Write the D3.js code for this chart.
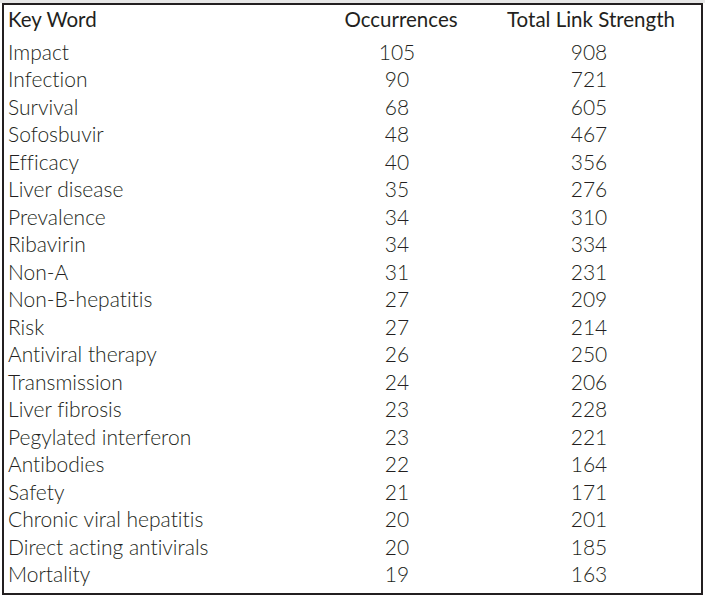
<!DOCTYPE html>
<html><head><meta charset="utf-8">
<script src="https://cdn.jsdelivr.net/npm/d3@7"></script>
<style>
html,body{margin:0;padding:0;background:#fff;}
svg{display:block;}
text{font-family:Lato,"Open Sans",sans-serif;fill:#231f20;font-variant-ligatures:none;font-feature-settings:"liga" 0,"dlig" 0;}
</style></head>
<body><svg id="c" width="705" height="598"></svg>
<script>
const headers = ["Key Word", "Occurrences", "Total Link Strength"];
const keywords = ["Impact","Infection","Survival","Sofosbuvir","Efficacy","Liver disease","Prevalence","Ribavirin","Non-A","Non-B-hepatitis","Risk","Antiviral therapy","Transmission","Liver fibrosis","Pegylated interferon","Antibodies","Safety","Chronic viral hepatitis","Direct acting antivirals","Mortality"];
const occurrences = [105,90,68,48,40,35,34,34,31,27,27,26,24,23,23,22,21,20,20,19];
const linkStrength = [908,721,605,467,356,276,310,334,231,209,214,250,206,228,221,164,171,201,185,163];

const svg = d3.select("#c");
svg.append("rect").attr("x",0).attr("y",0).attr("width",705).attr("height",3).attr("fill","#e6e6e6");
svg.append("rect").attr("x",3).attr("y",4).attr("width",699).attr("height",590)
  .attr("fill","#fff").attr("stroke","#231f20").attr("stroke-width",2);

const y = d3.scalePoint().domain(keywords).range([60,582]);
const rows = keywords.map((k,i)=>({k, o:occurrences[i], s:linkStrength[i]}));

const fsH = 20.5, fs = 21;
// headers
svg.append("text").attr("x",8).attr("y",27).attr("font-size",fsH).text(headers[0]);
svg.append("text").attr("x",401).attr("y",27).attr("font-size",fsH).attr("text-anchor","middle").text(headers[1]);
svg.append("text").attr("x",591).attr("y",27).attr("font-size",fsH).attr("text-anchor","middle").text(headers[2]);

const g = svg.append("g").attr("font-weight",300);
g.selectAll("text.k").data(rows).join("text").attr("class","k")
  .attr("x",8).attr("y",d=>y(d.k)).attr("font-size",fs).text(d=>d.k);
g.selectAll("text.o").data(rows).join("text").attr("class","o")
  .attr("x",397).attr("y",d=>y(d.k)).attr("font-size",fs).attr("text-anchor","middle").text(d=>d.o);
g.selectAll("text.s").data(rows).join("text").attr("class","s")
  .attr("x",589).attr("y",d=>y(d.k)).attr("font-size",fs).attr("text-anchor","middle").text(d=>d.s);
</script></body></html>
